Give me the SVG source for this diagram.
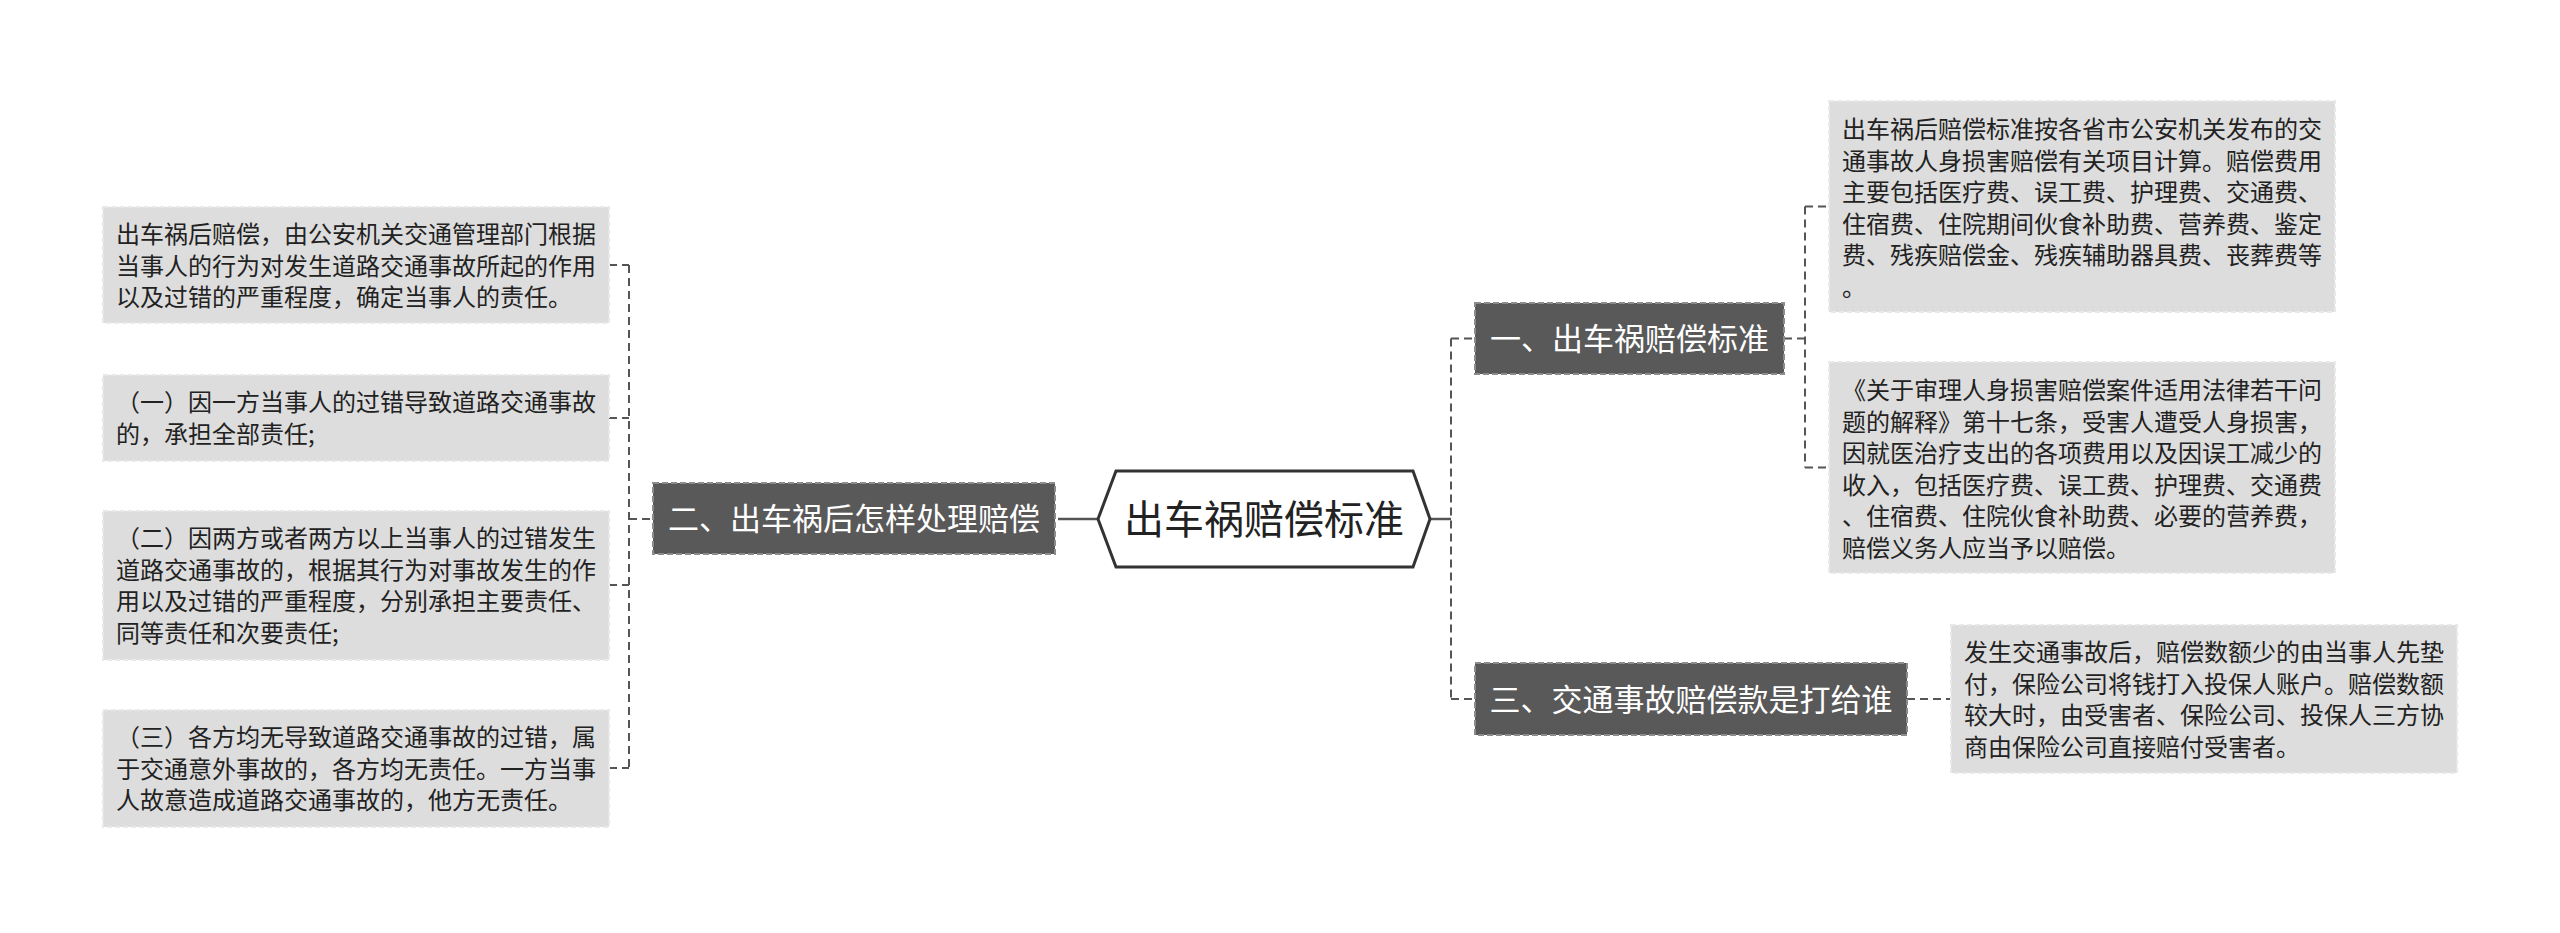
<svg xmlns="http://www.w3.org/2000/svg" width="2560" height="933" viewBox="0 0 2560 933">
<style>
.leaf{fill:#dddddd;stroke:#e9e9e9;stroke-width:2;stroke-dasharray:5 3}
.main{fill:#595959;stroke:#8c8c8c;stroke-width:2;stroke-dasharray:6 3}
.lt{font-family:"Noto Sans CJK SC","Noto Sans",sans-serif;font-size:24px;fill:#222222}
.mt{font-family:"Noto Sans CJK SC","Noto Sans",sans-serif;font-size:31px;fill:#ffffff;text-anchor:middle}
.ct{font-family:"Noto Sans CJK SC","Noto Sans",sans-serif;font-size:40px;fill:#222222;text-anchor:middle}
.dash{fill:none;stroke:#555555;stroke-width:2;stroke-dasharray:8 5}
.solid{fill:none;stroke:#555555;stroke-width:2.5}
</style>
<rect width="2560" height="933" fill="#ffffff"/>
<g id="connectors">
<path class="solid" d="M1430 519 H1451"/>
<path class="dash" d="M1451 338.5 V699 M1451 338.5 H1475 M1451 699 H1475"/>
<path class="dash" d="M1784 338.5 H1805 M1805 206.5 V467.5 M1805 206.5 H1829 M1805 467.5 H1829"/>
<path class="dash" d="M1907 699 H1951"/>
<path class="solid" d="M1058 519 H1098"/>
<path class="dash" d="M629 265 V768 M609 265 H629 M609 418 H629 M609 585 H629 M609 768 H629 M629 519 H653"/>
</g>
<g id="center">
<polygon points="1098,519 1116,471 1413,471 1430,519 1413,567 1116,567" fill="#ffffff" stroke="#333333" stroke-width="3"/>
<text class="ct" x="1264" y="534">出车祸赔偿标准</text>
</g>
<g id="n1">
<rect class="main" x="1475" y="303" width="309" height="71"/>
<text class="mt" x="1629.5" y="350">一、出车祸赔偿标准</text>
</g>
<g id="n3">
<rect class="main" x="1475" y="663" width="432" height="72"/>
<text class="mt" x="1691" y="711">三、交通事故赔偿款是打给谁</text>
</g>
<g id="n2">
<rect class="main" x="653" y="483" width="402" height="71"/>
<text class="mt" x="854" y="530">二、出车祸后怎样处理赔偿</text>
</g>
<g id="r1">
<rect class="leaf" x="1829" y="101" width="506" height="211"/>
<text class="lt" x="1842"><tspan x="1842" y="138">出车祸后赔偿标准按各省市公安机关发布的交</tspan><tspan x="1842" y="169.5">通事故人身损害赔偿有关项目计算。赔偿费用</tspan><tspan x="1842" y="201">主要包括医疗费、误工费、护理费、交通费、</tspan><tspan x="1842" y="232.5">住宿费、住院期间伙食补助费、营养费、鉴定</tspan><tspan x="1842" y="264">费、残疾赔偿金、残疾辅助器具费、丧葬费等</tspan><tspan x="1842" y="295.5">。</tspan></text>
</g>
<g id="r2">
<rect class="leaf" x="1829" y="362" width="506" height="211"/>
<text class="lt" x="1842"><tspan x="1842" y="399">《关于审理人身损害赔偿案件适用法律若干问</tspan><tspan x="1842" y="430.5">题的解释》第十七条，受害人遭受人身损害，</tspan><tspan x="1842" y="462">因就医治疗支出的各项费用以及因误工减少的</tspan><tspan x="1842" y="493.5">收入，包括医疗费、误工费、护理费、交通费</tspan><tspan x="1842" y="525">、住宿费、住院伙食补助费、必要的营养费，</tspan><tspan x="1842" y="556.5">赔偿义务人应当予以赔偿。</tspan></text>
</g>
<g id="r3">
<rect class="leaf" x="1951" y="625" width="506" height="148"/>
<text class="lt" x="1964"><tspan x="1964" y="661">发生交通事故后，赔偿数额少的由当事人先垫</tspan><tspan x="1964" y="692.5">付，保险公司将钱打入投保人账户。赔偿数额</tspan><tspan x="1964" y="724">较大时，由受害者、保险公司、投保人三方协</tspan><tspan x="1964" y="755.5">商由保险公司直接赔付受害者。</tspan></text>
</g>
<g id="l1">
<rect class="leaf" x="103" y="207" width="506" height="116"/>
<text class="lt" x="116"><tspan x="116" y="243">出车祸后赔偿，由公安机关交通管理部门根据</tspan><tspan x="116" y="274.5">当事人的行为对发生道路交通事故所起的作用</tspan><tspan x="116" y="306">以及过错的严重程度，确定当事人的责任。</tspan></text>
</g>
<g id="l2">
<rect class="leaf" x="103" y="375" width="506" height="86"/>
<text class="lt" x="116"><tspan x="116" y="411">（一）因一方当事人的过错导致道路交通事故</tspan><tspan x="116" y="442.5">的，承担全部责任;</tspan></text>
</g>
<g id="l3">
<rect class="leaf" x="103" y="511" width="506" height="149"/>
<text class="lt" x="116"><tspan x="116" y="547">（二）因两方或者两方以上当事人的过错发生</tspan><tspan x="116" y="578.5">道路交通事故的，根据其行为对事故发生的作</tspan><tspan x="116" y="610">用以及过错的严重程度，分别承担主要责任、</tspan><tspan x="116" y="641.5">同等责任和次要责任;</tspan></text>
</g>
<g id="l4">
<rect class="leaf" x="103" y="710" width="506" height="117"/>
<text class="lt" x="116"><tspan x="116" y="746">（三）各方均无导致道路交通事故的过错，属</tspan><tspan x="116" y="777.5">于交通意外事故的，各方均无责任。一方当事</tspan><tspan x="116" y="809">人故意造成道路交通事故的，他方无责任。</tspan></text>
</g>
</svg>
